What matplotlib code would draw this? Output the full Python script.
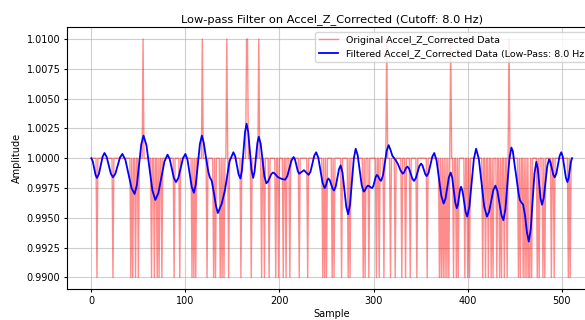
import numpy as np
import matplotlib
matplotlib.use("Agg")
import matplotlib.pyplot as plt

# Raw signal: baseline of 1.0 with single-sample spikes
n_samples = 512
baseline = 1.0
spike_low = 0.99
spike_high = 1.01

down_spikes = [6, 23, 42, 44, 47, 50, 64, 67, 70, 72, 75, 88, 94, 107, 109, 111,
               123, 130, 132, 137, 139, 141, 146, 159, 170, 181, 184, 189, 196,
               199, 204, 207, 211, 221, 230, 246, 248, 250, 256, 258, 266, 273,
               275, 289, 291, 295, 303, 306, 311, 318, 323, 330, 334, 339, 346,
               357, 370, 372, 374, 376, 378, 380, 385, 388, 390, 397, 400, 402,
               416, 419, 422, 425, 427, 431, 434, 436, 439, 442, 454, 456, 459,
               461, 463, 465, 466, 468, 474, 476, 480, 482, 489, 492, 507, 509]
up_spikes = [55, 118, 144, 165, 166, 178, 314, 382, 444]

# Low-pass output, traced sample position / amplitude
filt_x = [0, 1.5, 4.5, 6, 8, 12, 14, 16.25, 20.75, 23, 25.5, 30.5, 33, 36.25,
          42.75, 46, 48.4, 53.1, 55.5, 58.6, 64.9, 68, 71.25, 77.75, 81, 83.25,
          87.75, 90, 92.5, 97.5, 100, 102.25, 106.75, 109, 111.1, 115.4, 117.5,
          119.5, 122, 124.5, 126, 128, 130.5, 132.5, 134.5, 138.5, 142, 146.9,
          151, 152.9, 156.6, 158.5, 160.1, 163.4, 165, 166.75, 170.25, 172,
          173.5, 176.5, 178, 180, 184, 186, 187.75, 191.25, 193, 194.75, 198.25,
          200, 203, 206, 208.25, 212.75, 215, 216.5, 219.5, 221, 226, 231, 233,
          237, 239, 241.25, 245.75, 248, 249, 251, 252, 253.5, 256.5, 258,
          259.75, 263.25, 265, 267, 271, 273, 275, 279, 281, 283.1, 287.4,
          289.5, 290.6, 292.9, 294, 295.1, 297.4, 298.5, 299.75, 302.25, 303.5,
          304.6, 306.9, 308, 310, 314, 316, 318, 320, 323, 326, 328.5, 331,
          332.25, 334.75, 336, 337.75, 341.25, 343, 344.9, 348.6, 350.5, 352,
          355, 356.5, 358.5, 362.5, 364.5, 367, 372, 374.5, 376.4, 380.1, 382,
          383.6, 386.9, 388.5, 389.6, 391.9, 393, 394.6, 397.9, 399.5, 401.9,
          406.6, 409, 411.9, 417.6, 420.5, 422.75, 427.25, 429.5, 431.6, 435.9,
          438, 440.1, 444.4, 446.5, 448, 450, 452, 454, 455.5, 457, 459, 461,
          463, 465, 467, 471, 473, 474.5, 477.5, 479, 480.9, 484.6, 486.5, 488,
          491, 492.5, 494.25, 497.75, 499.5, 501.1, 504.4, 506, 507.25, 509.75,
          511]
filt_y = [1.0, 0.99975, 0.9986, 0.99835, 0.99866, 1.00013, 1.00044, 1.00013,
          0.99871, 0.9984, 0.99869, 1.00007, 1.00036, 0.99986, 0.9975, 0.997,
          0.99773, 1.00117, 1.0019, 1.00109, 0.99731, 0.9965, 0.99707, 0.99973,
          1.0003, 0.99995, 0.99834, 0.998, 0.99835, 1.00001, 1.00036, 0.99987,
          0.99759, 0.9971, 0.99782, 1.00118, 1.0019, 1.0013, 1.0, 0.9988, 0.9984,
          0.9981, 0.997, 0.996, 0.9954, 0.99616, 0.9973, 0.99974, 1.0005,
          1.00017, 0.99863, 0.9983, 0.99899, 1.00221, 1.0029, 1.00222, 0.99903,
          0.99835, 0.99887, 1.00128, 1.0018, 1.00122, 0.99848, 0.9979, 0.99803,
          0.99866, 0.9988, 0.99873, 0.99842, 0.99835, 0.99825, 0.9982, 0.99848,
          0.99981, 1.0001, 0.99989, 0.99891, 0.9987, 0.999, 0.9986, 0.99888,
          1.00022, 1.0005, 1.00005, 0.99795, 0.9975, 0.99762, 0.99818, 0.9983,
          0.99815, 0.99745, 0.9973, 0.99761, 0.99908, 0.9994, 0.99878, 0.99591,
          0.9953, 0.99612, 0.99997, 1.0008, 1.00026, 0.99774, 0.9972, 0.99727,
          0.99762, 0.9977, 0.99767, 0.99753, 0.9975, 0.99766, 0.99843, 0.9986,
          0.99852, 0.99817, 0.9981, 0.99855, 1.00065, 1.0011, 1.0007, 1.0002,
          0.9999, 0.9995, 0.999, 0.9987, 0.99879, 0.99921, 0.9993, 0.99912,
          0.99828, 0.9981, 0.99832, 0.99933, 0.99955, 0.99939, 0.99866, 0.9985,
          0.99879, 1.00015, 1.00044, 0.9998, 0.99684, 0.9962, 0.99659, 0.99841,
          0.9988, 0.99835, 0.99625, 0.9958, 0.99607, 0.99733, 0.9976, 0.99722,
          0.99547, 0.9951, 0.99595, 0.99994, 1.0008, 0.99994, 0.99595, 0.9951,
          0.99549, 0.99731, 0.9977, 0.99726, 0.99523, 0.9948, 0.99571, 0.99998,
          1.0009, 1.0006, 0.9994, 0.9983, 0.9971, 0.9965, 0.9963, 0.9961, 0.9952,
          0.9938, 0.993, 0.994, 0.9987, 0.9997, 0.99916, 0.99664, 0.9961,
          0.99667, 0.99933, 0.9999, 0.99967, 0.99862, 0.9984, 0.99871, 1.00019,
          1.0005, 1.00013, 0.99837, 0.998, 0.9983, 0.9997, 1.0]

column = "Accel_Z_Corrected"
cutoff = 8.0

raw = np.full(n_samples, baseline)
raw[down_spikes] = spike_low
raw[up_spikes] = spike_high

fig = plt.figure(figsize=(5.85, 3.2), dpi=100)
ax = fig.add_axes([0.115, 0.096, 0.904, 0.819])

ax.plot(np.arange(n_samples), raw, color='red', alpha=0.45, linewidth=1,
        label=f'Original {column} Data')
ax.plot(filt_x, filt_y, color='blue', linewidth=1.3,
        label=f'Filtered {column} Data (Low-Pass: {cutoff} Hz)')

ax.set_title(f'Low-pass Filter on {column} (Cutoff: {cutoff} Hz)', fontsize=8.2, pad=4)
ax.set_xlabel('Sample', fontsize=7, labelpad=2)
ax.set_ylabel('Amplitude', fontsize=7, labelpad=3)
ax.tick_params(labelsize=7, length=2.5, pad=2.5)
ax.legend(loc='upper right', fontsize=6.8)
ax.grid(True, alpha=0.6)

fig.savefig('out.png', dpi=100)
